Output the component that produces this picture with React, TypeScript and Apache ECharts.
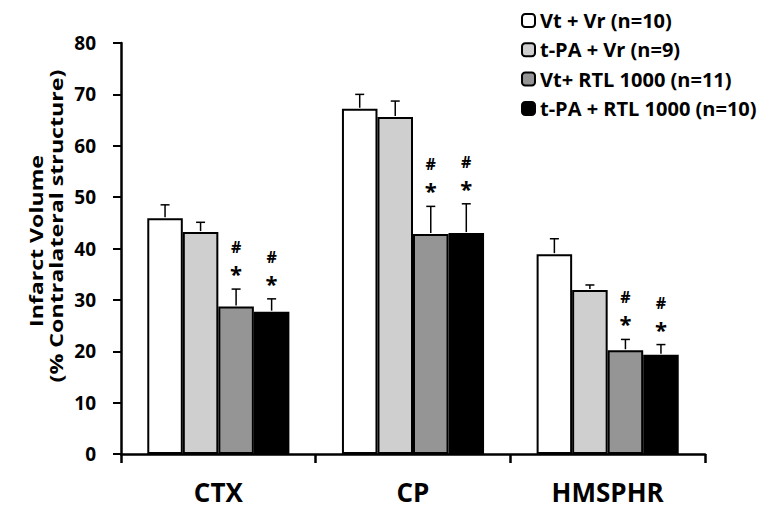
import React, { useEffect, useRef } from "react";
import * as echarts from "echarts";

const categories = ["CTX", "CP", "HMSPHR"];
const seriesNames = [
  "Vt + Vr (n=10)",
  "t-PA + Vr (n=9)",
  "Vt+ RTL 1000 (n=11)",
  "t-PA + RTL 1000 (n=10)",
];
const seriesColors = ["#ffffff", "#cfcfcf", "#959595", "#000000"];
const meanValues = [
  [45.9, 67.2, 38.9],
  [43.2, 65.6, 31.9],
  [28.7, 42.8, 20.2],
  [27.7, 43.0, 19.3],
];
const errorValues = [
  [2.6, 2.8, 3.0],
  [1.9, 3.1, 1.0],
  [3.4, 5.4, 2.1],
  [2.5, 5.7, 2.0],
];
const significant = [
  [false, false, false],
  [false, false, false],
  [true, true, true],
  [true, true, true],
];
const yTicks = { min: 0, max: 80, interval: 10 };
const yTitleLine1 = "Infarct Volume";
const yTitleLine2 = "(% Contralateral structure)";

const FONT = "'Open Sans', sans-serif";
const GAP = 0.27;
const TITLE_FONT = "bold 17px " + FONT;

function measure(text: string, font: string): number {
  const c = document.createElement("canvas").getContext("2d");
  if (!c) return text.length * 9;
  c.font = font;
  return c.measureText(text).width;
}

export default function App() {
  const ref = useRef<HTMLDivElement>(null);
  useEffect(() => {
    if (!ref.current) return;
    const chart = echarts.init(ref.current, null, { renderer: "svg" });
    const nSeries = seriesNames.length;

    const barSeries = seriesNames.map((name, i) => ({
      name,
      type: "bar",
      data: meanValues[i],
      barGap: "0%",
      barCategoryGap: GAP * 100 + "%",
      itemStyle: { color: seriesColors[i], borderColor: "#000", borderWidth: 2 },
      z: 2,
    }));

    const errSeries = seriesNames.map((name, i) => ({
      type: "custom",
      name: name + "_err",
      z: 3,
      data: meanValues[i].map((v, j) => [j, v, v + errorValues[i][j], significant[i][j] ? 1 : 0]),
      renderItem: (params: any, api: any) => {
        const cat = api.value(0);
        const catW = api.size([1, 0])[0];
        const bw = (catW * (1 - GAP)) / nSeries;
        const base = api.coord([cat, api.value(1)]);
        const top = api.coord([cat, api.value(2)]);
        const x = base[0] + (i - (nSeries - 1) / 2) * bw;
        const children: any[] = [
          {
            type: "line",
            shape: { x1: x, y1: base[1] - 1, x2: x, y2: top[1] },
            style: { stroke: "#000", lineWidth: 1.5 },
          },
          {
            type: "line",
            shape: { x1: x - 4.5, y1: top[1], x2: x + 4.5, y2: top[1] },
            style: { stroke: "#000", lineWidth: 1.5 },
          },
        ];
        if (api.value(3) === 1) {
          children.push({
            type: "text",
            x,
            y: top[1] - 16,
            style: {
              text: "*",
              font: "bold 22px " + FONT,
              fill: "#000",
              align: "center",
              verticalAlign: "middle",
            },
          });
          children.push({
            type: "text",
            x,
            y: top[1] - 42,
            style: {
              text: "#",
              font: "bold 16px " + FONT,
              fill: "#000",
              align: "center",
              verticalAlign: "middle",
            },
          });
        }
        return { type: "group", children };
      },
      silent: true,
    }));

    const s1 = 172 / measure(yTitleLine1, TITLE_FONT);
    const s2 = 313 / measure(yTitleLine2, TITLE_FONT);

    chart.setOption({
      animation: false,
      backgroundColor: "#fff",
      grid: { left: 121, right: 57, top: 43, bottom: 59, containLabel: false },
      legend: {
        orient: "vertical",
        left: 516,
        top: 5.5,
        itemWidth: 13,
        itemHeight: 13,
        itemGap: 9.3,
        data: seriesNames,
        textStyle: {
          fontFamily: FONT,
          fontWeight: "bold",
          fontSize: 20,
          color: "#000",
          lineHeight: 20,
        },
        itemStyle: { borderColor: "#000", borderWidth: 2 },
      },
      xAxis: {
        type: "category",
        data: categories,
        axisLine: { lineStyle: { color: "#000", width: 2.5 } },
        axisTick: { show: true, length: 9, lineStyle: { color: "#000", width: 2.5 } },
        axisLabel: {
          fontFamily: FONT,
          fontWeight: "bold",
          fontSize: 26,
          color: "#000",
          margin: 25,
        },
      },
      yAxis: {
        type: "value",
        min: yTicks.min,
        max: yTicks.max,
        interval: yTicks.interval,
        splitLine: { show: false },
        axisLine: { show: true, lineStyle: { color: "#000", width: 2.5 } },
        axisTick: { show: true, length: 8, lineStyle: { color: "#000", width: 2 } },
        axisLabel: {
          fontFamily: FONT,
          fontWeight: "bold",
          fontSize: 19,
          color: "#000",
          margin: 25,
        },
      },
      graphic: [
        {
          type: "text",
          x: 36,
          y: 241,
          rotation: Math.PI / 2,
          scaleX: s1,
          style: {
            text: yTitleLine1,
            font: TITLE_FONT,
            fill: "#000",
            align: "center",
            verticalAlign: "middle",
          },
        },
        {
          type: "text",
          x: 56,
          y: 226,
          rotation: Math.PI / 2,
          scaleX: s2,
          style: {
            text: yTitleLine2,
            font: TITLE_FONT,
            fill: "#000",
            align: "center",
            verticalAlign: "middle",
          },
        },
      ],
      series: [...barSeries, ...errSeries],
    });
    return () => chart.dispose();
  }, []);
  return (
    <div
      ref={ref}
      style={{ position: "fixed", left: 0, top: 0, width: 762, height: 513 }}
    />
  );
}
